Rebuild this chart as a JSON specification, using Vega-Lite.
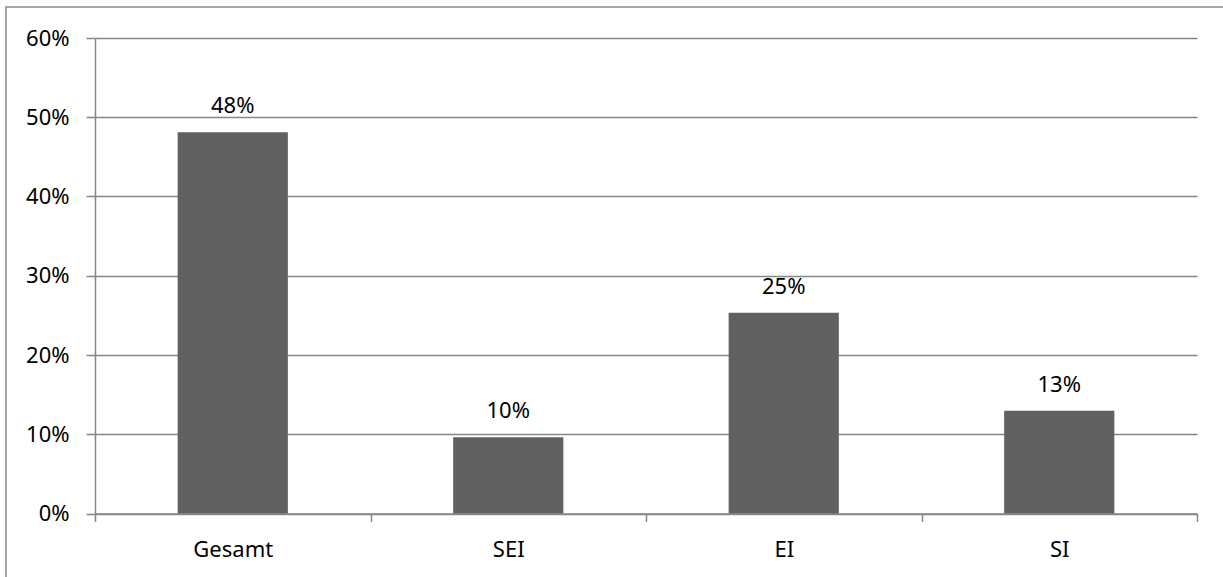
{
  "$schema": "https://vega.github.io/schema/vega-lite/v6.json",
  "autosize": "none",
  "padding": {"left": 6, "top": 7, "right": 0, "bottom": 0},
  "width": 1222,
  "height": 575,
  "background": "white",
  "config": {
    "view": {"stroke": "#8a8a8a", "strokeWidth": 1.5},
    "font": "Noto Sans",
    "axis": {"labelFont": "Noto Sans", "labelFontSize": 22, "labelColor": "#000000", "domainColor": "#868686", "tickColor": "#868686", "gridColor": "#868686", "domainWidth": 1.5, "tickWidth": 1.5, "gridWidth": 1.5, "title": null}
  },
  "data": {"values": [
    {"category": "Gesamt", "share": 0.481},
    {"category": "SEI", "share": 0.0962},
    {"category": "EI", "share": 0.2534},
    {"category": "SI", "share": 0.1297}
  ]},
  "encoding": {
    "x": {"field": "category", "type": "nominal", "sort": null,
      "scale": {"range": [89, 1191], "paddingInner": 0, "paddingOuter": 0},
      "axis": {"orient": "bottom", "offset": -68.5, "tickBand": "extent", "tickSize": 8, "labelPadding": 18, "labelAngle": 0, "grid": false}},
    "y": {"field": "share", "type": "quantitative",
      "scale": {"domain": [0, 0.6], "range": [506.5, 31], "nice": false, "zero": true},
      "axis": {"orient": "left", "offset": -89, "values": [0, 0.1, 0.2, 0.3, 0.4, 0.5, 0.6], "format": ".0%", "tickSize": 9, "labelPadding": 17, "grid": true}}
  },
  "layer": [
    {"mark": {"type": "bar", "color": "#616161", "width": {"band": 0.4}}},
    {"mark": {"type": "text", "baseline": "alphabetic", "dy": -19, "fontSize": 22, "font": "Noto Sans", "color": "#000000"},
     "encoding": {"text": {"field": "share", "type": "quantitative", "format": ".0%"}}}
  ]
}
